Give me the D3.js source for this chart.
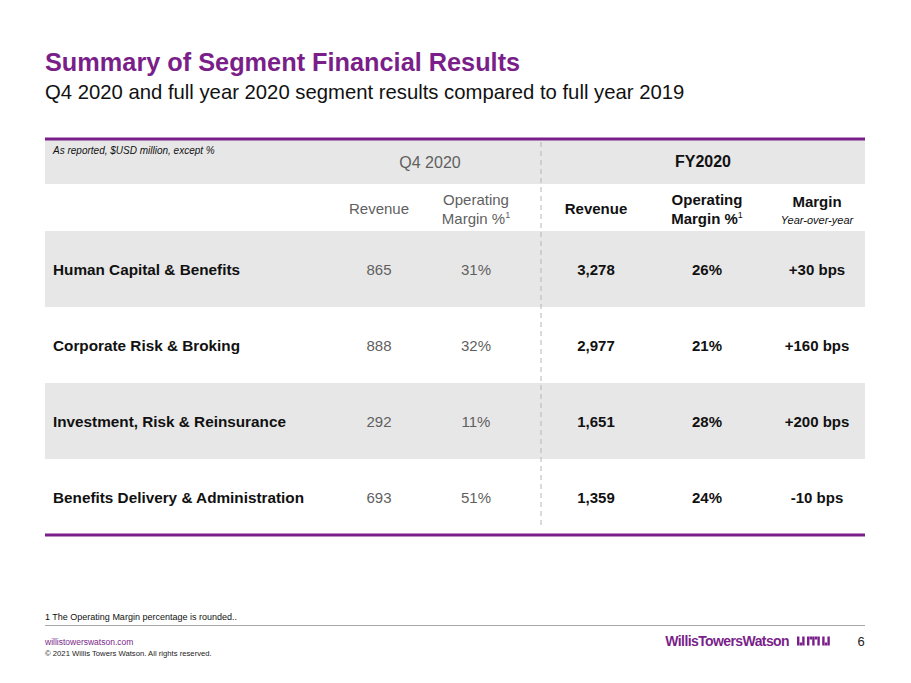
<!DOCTYPE html>
<html>
<head>
<meta charset="utf-8">
<script src="https://cdn.jsdelivr.net/npm/d3@7"></script>
<style>
    body { margin: 0; background: #fff; }
    svg { display: block; font-family: "Liberation Sans", Arial, sans-serif; }
</style>
</head>
<body>
<svg id="chart" width="911" height="683"></svg>
<script>
const segments = [
    'Human Capital & Benefits',
    'Corporate Risk & Broking',
    'Investment, Risk & Reinsurance',
    'Benefits Delivery & Administration'
]
const q4Revenue = [865, 888, 292, 693]
const q4Margin = [31, 32, 11, 51]
const fyRevenue = [3278, 2977, 1651, 1359]
const fyMargin = [26, 21, 28, 24]
const marginChangeBps = [30, 160, 200, -10]

const columns = ['label', 'q4Rev', 'q4Margin', 'fyRev', 'fyMargin', 'change']

const purple = '#7a1f8a'
const grey = '#e7e7e7'
const soft = '#5f5f5f'

const svg = d3.select('#chart')

const left = 45, right = 865
const tableTop = 139, headTop = 140, subTop = 184, bodyTop = 231, bodyBottom = 535

const x = d3.scaleOrdinal()
    .domain(columns)
    .range([53, 379, 476, 596, 707, 817])

const y = d3.scaleBand()
    .domain(d3.range(segments.length))
    .range([bodyTop, bodyBottom])

const fmt = d3.format(',')
const bps = (v) => (v > 0 ? '+' : '-') + Math.abs(v) + ' bps'

// titles
svg.append('text')
    .attr('x', 45).attr('y', 71)
    .attr('fill', purple)
    .style('font-size', '25.3px').style('font-weight', 'bold')
    .text('Summary of Segment Financial Results')
svg.append('text')
    .attr('x', 45).attr('y', 99)
    .attr('fill', '#111')
    .style('font-size', '20.3px')
    .text('Q4 2020 and full year 2020 segment results compared to full year 2019')

// header band
svg.append('rect')
    .attr('x', left).attr('y', headTop)
    .attr('width', right - left).attr('height', subTop - headTop)
    .attr('fill', grey)

// body stripes
svg.append('g')
    .selectAll('rect')
    .data(segments)
    .join('rect')
    .attr('x', left)
    .attr('y', (d, i) => y(i))
    .attr('width', right - left)
    .attr('height', y.bandwidth())
    .attr('fill', (d, i) => i % 2 == 0 ? grey : '#fff')

// purple rules
svg.append('line')
    .attr('x1', left).attr('x2', right)
    .attr('y1', tableTop).attr('y2', tableTop)
    .attr('stroke', purple).attr('stroke-width', 3)
svg.append('line')
    .attr('x1', left).attr('x2', right)
    .attr('y1', bodyBottom).attr('y2', bodyBottom)
    .attr('stroke', purple).attr('stroke-width', 3)

// dashed divider
svg.append('line')
    .attr('x1', 541).attr('x2', 541)
    .attr('y1', headTop + 2).attr('y2', bodyBottom - 6)
    .attr('stroke', '#b5b5b5').attr('stroke-width', 1)
    .attr('stroke-dasharray', '5,4')

// header texts
svg.append('text')
    .attr('x', 53).attr('y', 154)
    .style('font-size', '10px').style('font-style', 'italic')
    .attr('fill', '#111')
    .text('As reported, $USD million, except %')
svg.append('text')
    .attr('x', 430).attr('y', 168)
    .attr('text-anchor', 'middle')
    .attr('fill', soft)
    .style('font-size', '16px')
    .text('Q4 2020')
svg.append('text')
    .attr('x', 703).attr('y', 167)
    .attr('text-anchor', 'middle')
    .attr('fill', '#111')
    .style('font-size', '16px').style('font-weight', 'bold')
    .text('FY2020')

const sub = svg.append('g').style('font-size', '15px').attr('text-anchor', 'middle')
sub.append('text')
    .attr('x', x('q4Rev')).attr('y', 214)
    .attr('fill', soft)
    .text('Revenue')
const q4m = sub.append('text').attr('fill', soft)
q4m.append('tspan').attr('x', x('q4Margin')).attr('y', 205).text('Operating')
q4m.append('tspan').attr('x', x('q4Margin')).attr('y', 224).text('Margin %')
q4m.append('tspan').attr('dy', -6).style('font-size', '9px').text('1')

sub.append('text')
    .attr('x', x('fyRev')).attr('y', 214)
    .attr('fill', '#111').style('font-weight', 'bold')
    .text('Revenue')
const fym = sub.append('text').attr('fill', '#111').style('font-weight', 'bold')
fym.append('tspan').attr('x', x('fyMargin')).attr('y', 205).text('Operating')
fym.append('tspan').attr('x', x('fyMargin')).attr('y', 224).text('Margin %')
fym.append('tspan').attr('dy', -6).style('font-size', '9px').style('font-weight', 'normal').text('1')

sub.append('text')
    .attr('x', x('change')).attr('y', 207)
    .attr('fill', '#111').style('font-weight', 'bold')
    .text('Margin')
sub.append('text')
    .attr('x', x('change')).attr('y', 224)
    .attr('fill', '#111').style('font-style', 'italic').style('font-size', '11px')
    .text('Year-over-year')

// body rows
const rows = svg.append('g')
    .selectAll('g')
    .data(segments.map((s, i) => ({
        label: s,
        q4Rev: fmt(q4Revenue[i]),
        q4Margin: q4Margin[i] + '%',
        fyRev: fmt(fyRevenue[i]),
        fyMargin: fyMargin[i] + '%',
        change: bps(marginChangeBps[i])
    })))
    .join('g')
    .attr('transform', (d, i) => `translate(0,${y(i) + y.bandwidth() / 2 + 6})`)

rows.selectAll('text')
    .data((d) => columns.map((k) => ({ key: k, value: d[k] })))
    .join('text')
    .attr('x', (d) => x(d.key))
    .attr('text-anchor', (d) => d.key == 'label' ? 'start' : 'middle')
    .attr('fill', (d) => d.key.startsWith('q4') ? soft : '#111')
    .style('font-weight', (d) => d.key.startsWith('q4') ? 'normal' : 'bold')
    .style('font-size', (d) => d.key == 'label' ? '15.3px' : '15px')
    .text((d) => d.value)

// footnote and footer
svg.append('text')
    .attr('x', 45).attr('y', 620)
    .style('font-size', '9px').attr('fill', '#111')
    .text('1 The Operating Margin percentage is rounded..')
svg.append('line')
    .attr('x1', 45).attr('x2', 865)
    .attr('y1', 625.5).attr('y2', 625.5)
    .attr('stroke', '#a8a8a8').attr('stroke-width', 1)
svg.append('text')
    .attr('x', 45).attr('y', 645)
    .style('font-size', '8.5px').attr('fill', purple)
    .text('willistowerswatson.com')
svg.append('text')
    .attr('x', 45).attr('y', 656)
    .style('font-size', '7.7px').attr('fill', '#222')
    .text('© 2021 Willis Towers Watson. All rights reserved.')

svg.append('text')
    .attr('x', 789).attr('y', 646)
    .attr('text-anchor', 'end')
    .attr('fill', purple)
    .style('font-size', '14px').style('font-weight', 'bold').style('letter-spacing', '-0.6px')
    .text('WillisTowersWatson')

// logo mark: short bars in an I.I'I'I.I pattern
const mark = [[0, 0, 9], [2.6, 6, 3], [5.2, 0, 9], [10, 0, 9], [12.6, 0, 3], [15.2, 0, 9], [17.8, 0, 3], [20.4, 0, 9], [25.2, 0, 9], [27.8, 6, 3], [30.4, 0, 9]]
svg.append('g')
    .attr('transform', 'translate(797,636.5)')
    .selectAll('rect')
    .data(mark)
    .join('rect')
    .attr('x', (d) => d[0])
    .attr('y', (d) => d[1])
    .attr('width', 2.4)
    .attr('height', (d) => d[2])
    .attr('fill', purple)

svg.append('text')
    .attr('x', 861).attr('y', 646)
    .attr('text-anchor', 'middle')
    .style('font-size', '13px').attr('fill', '#222')
    .text('6')
</script>
</body>
</html>
